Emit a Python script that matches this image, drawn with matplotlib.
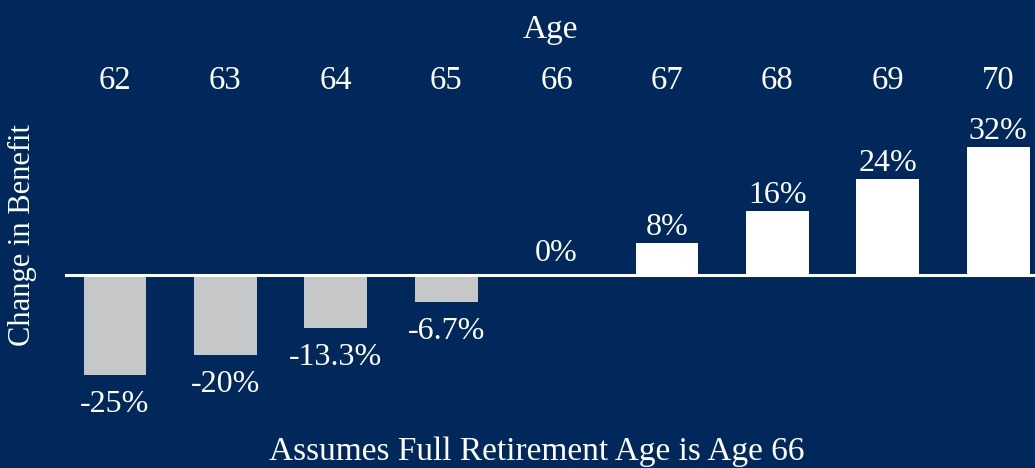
import matplotlib.pyplot as plt

# Data
ages = ["62", "63", "64", "65", "66", "67", "68", "69", "70"]
change = [-25, -20, -13.3, -6.7, 0, 8, 16, 24, 32]
labels = ["-25%", "-20%", "-13.3%", "-6.7%", "0%", "8%", "16%", "24%", "32%"]

navy = "#00285A"
grey = "#C6C7C9"

plt.rcParams["font.family"] = ["Liberation Serif", "DejaVu Serif"]

fig = plt.figure(figsize=(10.35, 4.68), dpi=100, facecolor=navy)
W, H = 1035, 468
# axes placed in pixel terms: left 65, right 1035, top 110, bottom 420
ax = fig.add_axes([65 / W, (H - 420) / H, 970 / W, 310 / H])
ax.set_facecolor(navy)

x = list(range(len(ages)))
colors = [grey if v < 0 else "white" for v in change]
ax.bar(x, change, width=0.57, color=colors, zorder=2)
ax.axhline(0, color="white", linewidth=2.2, zorder=3)

# value labels
for xi, v, lab in zip(x, change, labels):
    if v < 0:
        ax.annotate(lab, (xi, v), xytext=(0, -11), textcoords="offset points",
                    ha="center", va="top", color="white", fontsize=23)
    else:
        dy = 5 if v == 0 else 1
        ax.annotate(lab, (xi, v), xytext=(0, dy), textcoords="offset points",
                    ha="center", va="bottom", color="white", fontsize=23)

ax.set_xlim(-0.453, 8.333)
ax.set_ylim(-36.25, 41.25)

# ages along the top
ax.xaxis.tick_top()
ax.set_xticks(x)
ax.set_xticklabels(ages, fontsize=23.5, color="white")
ax.tick_params(axis="x", length=0, pad=10)
ax.xaxis.set_label_position("top")
ax.set_xlabel("Age", fontsize=24, color="white", labelpad=20)
ax.set_yticks([])

for s in ax.spines.values():
    s.set_visible(False)

fig.text(22 / W, 1 - 235 / H, "Change in Benefit", rotation=90, ha="center",
         va="center", color="white", fontsize=22)
fig.text(537 / W, 1 - 452 / H, "Assumes Full Retirement Age is Age 66",
         ha="center", va="center", color="white", fontsize=24)

plt.savefig("out.png", dpi=100, facecolor=navy)
